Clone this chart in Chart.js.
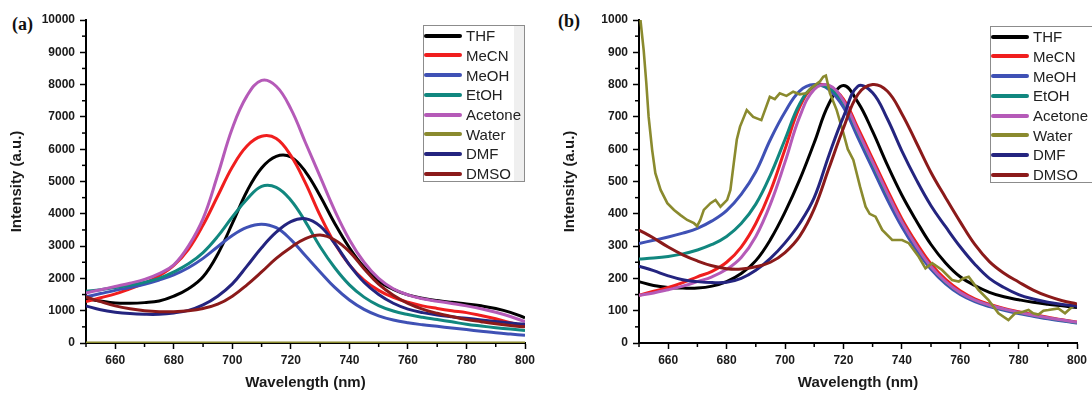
<!DOCTYPE html>
<html><head><meta charset="utf-8">
<script src="https://cdn.jsdelivr.net/npm/chart.js@4.4.1/dist/chart.umd.min.js"></script>
<style>
html,body{margin:0;padding:0;background:#fff;width:1092px;height:396px;overflow:hidden;position:relative;font-family:'Liberation Sans',Arial,sans-serif}
canvas{position:absolute;top:0}
.tag{position:absolute;font-family:'Liberation Serif','Times New Roman',serif;font-weight:bold;font-size:18px;line-height:18px;color:#111}
.legend{position:absolute;border:1px solid #8c8c8c;background:#fff;box-sizing:border-box}
.legend.a{background:linear-gradient(to right,#fff calc(100% - 10px),#efefef calc(100% - 10px))}
.row{position:absolute;left:0;height:20px;display:flex;align-items:center;font-size:15px;color:#222;white-space:nowrap}
.row i{display:inline-block;width:38px;height:4px;border-radius:2px;margin-right:4px}
</style></head><body>
<div class="tag" style="left:12px;top:15px">(a)</div>
<div class="tag" style="left:558px;top:12px">(b)</div>
<canvas id="ca" width="546" height="396" style="left:0"></canvas>
<canvas id="cb" width="539" height="396" style="left:553px"></canvas>
<div id="lga" class="legend a" style="left:423px;top:25px;width:102px;height:157px"></div>
<div id="lgb" class="legend" style="left:990px;top:26px;width:112px;height:157px"></div>
<script>
// ---------- data ----------
const names = ['THF','MeCN','MeOH','EtOH','Acetone','Water','DMF','DMSO'];
const colors = ['#000000','#f01e1e','#3f51b5','#11877f','#b55ab8','#8a8a2e','#24247f','#8b1a1a'];
const wl = [650,655,660,665,670,675,680,685,690,695,700,705,710,715,720,725,730,735,740,745,750,755,760,765,770,775,780,785,790,795,800];

// panel (a)
const THF_a     = [1380,1300,1240,1230,1250,1300,1450,1680,2050,2750,3700,4700,5420,5780,5760,5300,4550,3700,2950,2350,1920,1660,1490,1385,1315,1260,1210,1150,1070,950,780];
const MeCN_a    = [1280,1400,1520,1680,1850,2080,2400,2900,3650,4550,5450,6100,6400,6330,5800,4950,3950,3080,2420,1950,1630,1410,1260,1150,1070,1000,940,850,750,630,520];
const MeOH_a    = [1430,1530,1630,1720,1820,1950,2110,2330,2620,2980,3330,3580,3680,3570,3200,2700,2200,1720,1330,1040,840,710,625,565,515,465,415,365,315,275,240];
const EtOH_a    = [1600,1650,1720,1790,1880,2000,2200,2450,2800,3300,3900,4450,4850,4820,4420,3750,2980,2330,1800,1420,1160,990,880,795,725,655,580,525,475,430,390];
const Acetone_a = [1550,1650,1750,1850,1970,2150,2420,3000,3850,5200,6650,7650,8130,7950,7250,6200,5150,4100,3200,2500,2000,1680,1490,1370,1295,1225,1150,1060,950,820,660];
const Water_a   = [0,0,0,0,0,0,0,0,0,0,0,0,0,0,0,0,0,0,0,0,0,0,0,0,0,0,0,0,0,0,0];
const DMF_a     = [1150,1030,955,910,890,890,930,1010,1180,1450,1830,2380,2950,3430,3760,3850,3620,3080,2420,1880,1500,1230,1050,940,865,810,765,715,665,620,580];
const DMSO_a    = [1430,1280,1150,1060,1000,970,970,1000,1070,1200,1450,1800,2200,2620,2960,3230,3340,3190,2830,2300,1820,1480,1230,1050,920,820,730,660,595,540,500];

// panel (b)
const THF_b     = [190,178,172,170,170,176,190,215,255,320,405,505,620,740,797,745,655,552,458,378,305,248,205,178,157,143,134,126,120,115,110];
const MeCN_b    = [148,160,172,187,205,222,250,297,370,470,600,730,795,795,755,665,570,475,385,310,245,197,162,137,120,107,97,88,80,72,65];
const MeOH_b    = [308,318,328,340,355,378,410,460,530,630,715,780,800,785,730,635,540,445,360,288,228,183,150,128,113,101,91,83,75,68,62];
const EtOH_b    = [260,263,268,276,288,305,330,370,430,520,630,740,795,790,745,650,555,460,375,300,235,188,155,132,116,104,94,85,77,70,63];
const Acetone_b = [148,155,165,176,190,205,228,265,330,430,560,700,785,798,750,655,560,465,375,300,236,190,156,133,117,105,95,86,78,71,64];
const DMF_b     = [238,224,208,196,190,187,188,200,225,262,310,370,450,580,700,795,775,695,595,505,425,360,298,244,200,172,150,136,126,119,114];
const DMSO_b    = [350,325,297,273,254,239,230,229,236,250,280,330,415,540,665,770,800,780,710,620,528,450,375,305,252,216,189,164,145,131,121];
const waterB_wl  = [650.5,651.6,652.5,653.3,654.5,655.6,657.4,659.7,662,664.2,666.5,668.8,669.9,671,672.2,674.5,676.2,677.9,680.2,681.3,682.5,683.5,684.6,686.9,689.1,691.9,694.8,696.5,698.2,700.5,702.8,705,707.3,709,710.5,712,713.1,714,715.4,717.7,720,721.5,723.4,725.7,727.6,729,731,733.3,736.7,740.1,742.4,745.8,748.1,750.4,753.8,757.2,759.5,761,762.9,766.3,769.7,773.1,776.5,778.8,781,783.4,785,786.8,788.5,790.2,793.6,795.9,797.5,799.3,800];
const waterB_val = [1000,907,805,700,598,526,474,433,412,396,381,371,362,381,412,433,443,422,443,474,560,630,670,721,700,690,762,755,773,765,778,770,773,790,800,810,824,828,773,721,650,600,567,484,422,400,391,350,319,319,309,267,231,247,226,195,190,200,205,164,133,92,71,92,95,102,92,88,100,102,107,92,105,118,115];

const xTicks = [660,680,700,720,740,760,780,800];
const yTicksA = [0,1000,2000,3000,4000,5000,6000,7000,8000,9000,10000];
const yTicksB = [0,100,200,300,400,500,600,700,800,900,1000];

// ---------- chart ----------
Chart.defaults.font.family = "'Liberation Sans', Arial, sans-serif";
Chart.defaults.color = '#1a1a1a';

const minorTicks = {
  id: 'minorTicks',
  afterDraw(chart, args, opts) {
    const ctx = chart.ctx, xs = chart.scales.x, ys = chart.scales.y;
    ctx.save(); ctx.strokeStyle = '#000'; ctx.lineWidth = 1.5;
    const xStep = opts.xStep, yStep = opts.yStep;
    for (let v = xs.min; v <= xs.max; v += xStep) {
      if (xTicks.includes(v)) continue;
      const p = xs.getPixelForValue(v);
      ctx.beginPath(); ctx.moveTo(p, ys.bottom); ctx.lineTo(p, ys.bottom + 4); ctx.stroke();
    }
    for (let v = ys.min; v <= ys.max; v += yStep) {
      if (Math.round(v / (yStep * 2)) * yStep * 2 === v) continue;
      const p = ys.getPixelForValue(v);
      ctx.beginPath(); ctx.moveTo(xs.left - 4, p); ctx.lineTo(xs.left, p); ctx.stroke();
    }
    ctx.restore();
  }
};

function toXY(xs, ys) { return xs.map((x, k) => ({x: x, y: ys[k]})); }

function build(canvasId, series, yMax, yStep, yTicks, padRight, waterData) {
  const datasets = names.map((n, i) => {
    const noisy = n === 'Water' && waterData;
    return {
      label: n,
      data: noisy ? waterData : toXY(wl, series[i]),
      borderColor: colors[i],
      backgroundColor: colors[i],
      borderWidth: noisy ? 2.6 : 3,
      pointRadius: 0,
      tension: noisy ? 0 : 0.4,
      cubicInterpolationMode: 'default',
      order: 7 - i
    };
  });
  return new Chart(document.getElementById(canvasId), {
    type: 'line',
    data: {datasets},
    options: {
      responsive: false, animation: false, devicePixelRatio: 1,
      layout: {padding: {left: 4, right: padRight, top: 20, bottom: 0}},
      plugins: {legend: {display: false}, tooltip: {enabled: false},
                minorTicks: {xStep: 10, yStep: yStep / 2}},
      scales: {
        x: {
          type: 'linear', min: 650, max: 800,
          afterFit: s => { s.height = 53; },
          afterBuildTicks: s => { s.ticks = xTicks.map(v => ({value: v})); },
          ticks: {font: {size: 12, weight: 'bold'}, padding: 4, callback: v => String(v), maxRotation: 0},
          grid: {display: true, drawOnChartArea: false, drawTicks: true, tickLength: 6, tickWidth: 1.5, tickColor: '#000'},
          border: {display: true, color: '#000', width: 2},
          title: {display: true, text: 'Wavelength (nm)', font: {size: 15, weight: 'bold'}, color: '#1a1a1a', padding: {top: 4, bottom: 4}}
        },
        y: {
          type: 'linear', min: 0, max: yMax,
          afterFit: s => { s.width = 82; },
          afterBuildTicks: s => { s.ticks = yTicks.map(v => ({value: v})); },
          ticks: {font: {size: 12, weight: 'bold'}, padding: 5, callback: v => String(v)},
          grid: {display: true, drawOnChartArea: false, drawTicks: true, tickLength: 6, tickWidth: 1.5, tickColor: '#000'},
          border: {display: true, color: '#000', width: 2},
          title: {display: true, text: 'Intensity (a.u.)', font: {size: 15, weight: 'bold'}, color: '#1a1a1a', padding: {top: 4, bottom: 4}}
        }
      }
    },
    plugins: [minorTicks]
  });
}

const chartA = build('ca', [THF_a, MeCN_a, MeOH_a, EtOH_a, Acetone_a, Water_a, DMF_a, DMSO_a], 10000, 1000, yTicksA, 21, null);
const chartB = build('cb', [THF_b, MeCN_b, MeOH_b, EtOH_b, Acetone_b, null, DMF_b, DMSO_b], 1000, 100, yTicksB, 15, toXY(waterB_wl, waterB_val));

function legend(id, chart) {
  const box = document.getElementById(id);
  chart.data.datasets.forEach((d, i) => {
    const r = document.createElement('div');
    r.className = 'row';
    r.style.top = (-0.3 + i * 19.7) + 'px';
    r.innerHTML = '<i style="background:' + d.borderColor + '"></i>' + d.label;
    box.appendChild(r);
  });
}
legend('lga', chartA);
legend('lgb', chartB);
</script>
</body></html>
